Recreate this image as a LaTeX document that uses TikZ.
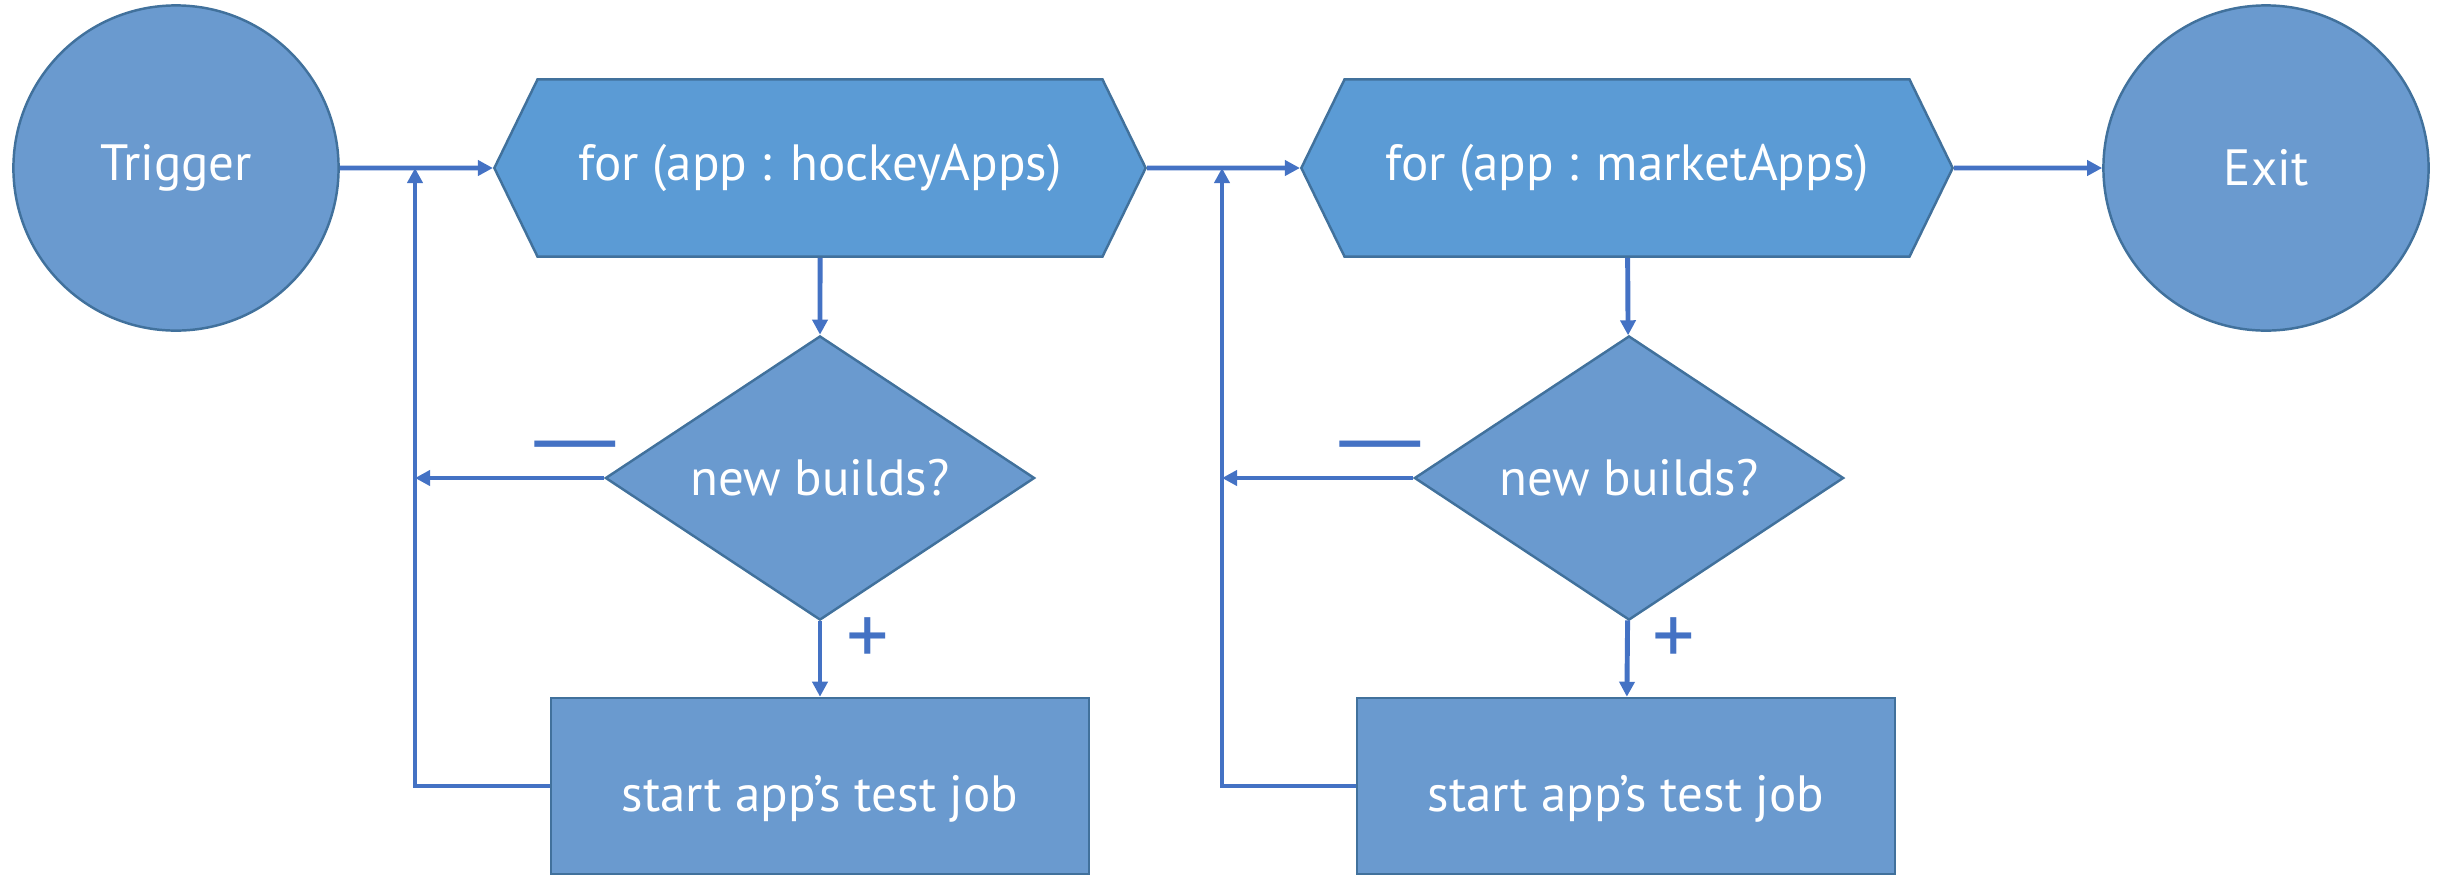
\documentclass[tikz,border=0pt]{standalone}
\usepackage{fontspec}
\setmainfont{PT Sans}
\usepackage{tikz}
\usetikzlibrary{shapes.geometric,shapes.symbols,arrows.meta}

\definecolor{linie}{RGB}{68,114,196}
\definecolor{rand}{RGB}{65,113,156}
\definecolor{flaeche}{RGB}{106,154,207}
\definecolor{hexblau}{RGB}{91,155,213}

\begin{document}
\begin{tikzpicture}[%show background rectangle,
        x=0.01cm, y=-0.01cm,
        font=\fontsize{14.5}{17}\selectfont,
        >={Triangle[length=1.5mm,width=1.5mm]}, % Voreinstellung für Pfeilspitzen
        knoten/.style={draw=rand, line width=0.7pt, fill=flaeche, text=white},
        kreis/.style={knoten, circle, minimum size=3.25cm, inner sep=0pt},
        schleife/.style={knoten, fill=hexblau, signal, signal to=east and west,
            signal pointer angle=128, minimum width=6.51cm, minimum height=1.77cm, inner sep=0pt},
        frage/.style={knoten, diamond, shape aspect=1.51, minimum width=4.29cm,
            minimum height=2.84cm, inner sep=0pt},
        aktion/.style={knoten, rectangle, minimum width=5.38cm, minimum height=1.76cm,
            text height=6.1mm},
        pfeil/.style={->, draw=linie, line width=1.4pt},
        zeichen/.style={text=linie, font=\fontsize{24}{24}\selectfont}
        ]
            \useasboundingbox (0,0) rectangle (2445,875);

            % Knoten
            \node[kreis]    (trigger) at (176,168)   {Trigger};
            \node[schleife] (hockey)  at (820,168)   {for (app : hockeyApps)};
            \node[frage]    (neu1)    at (820,478)   {new builds?};
            \node[aktion]   (job1)    at (820,786)   {start app’s test job};
            \node[schleife] (markt)   at (1627,168)  {for (app : marketApps)};
            \node[frage]    (neu2)    at (1629,478)  {new builds?};
            \node[aktion]   (job2)    at (1626,786)  {start app’s test job};
            \node[kreis]    (exit)    at (2266,168)  {Exit};

            \coordinate (rueck1) at (415,168);
            \coordinate (rueck2) at (1222,168);

            % Hauptlinie
            \draw[pfeil] (trigger) -- (hockey);
            \draw[pfeil] (hockey) -- (markt);
            \draw[pfeil] (markt) -- (exit);

            % Schleifen
            \draw[pfeil] (hockey) -- (neu1);
            \draw[pfeil] (neu1) -- (job1);
            \draw[pfeil] (neu1.west) -- (neu1.west -| rueck1);
            \draw[pfeil] (job1.west) -| (rueck1);

            \draw[pfeil] (markt) -- (neu2);
            \draw[pfeil] (neu2) -- (job2);
            \draw[pfeil] (neu2.west) -- (neu2.west -| rueck2);
            \draw[pfeil] (job2.west) -| (rueck2);

            % Zeichen
            \node[zeichen] (minus1) at (575,455)  {\scalebox{1.64}[1]{—}};
            \node[zeichen] (plus1)  at (868,641)  {+};
            \node[zeichen] (minus2) at (1380,455) {\scalebox{1.64}[1]{—}};
            \node[zeichen] (plus2)  at (1674,641) {+};

        \end{tikzpicture}
\end{document}
